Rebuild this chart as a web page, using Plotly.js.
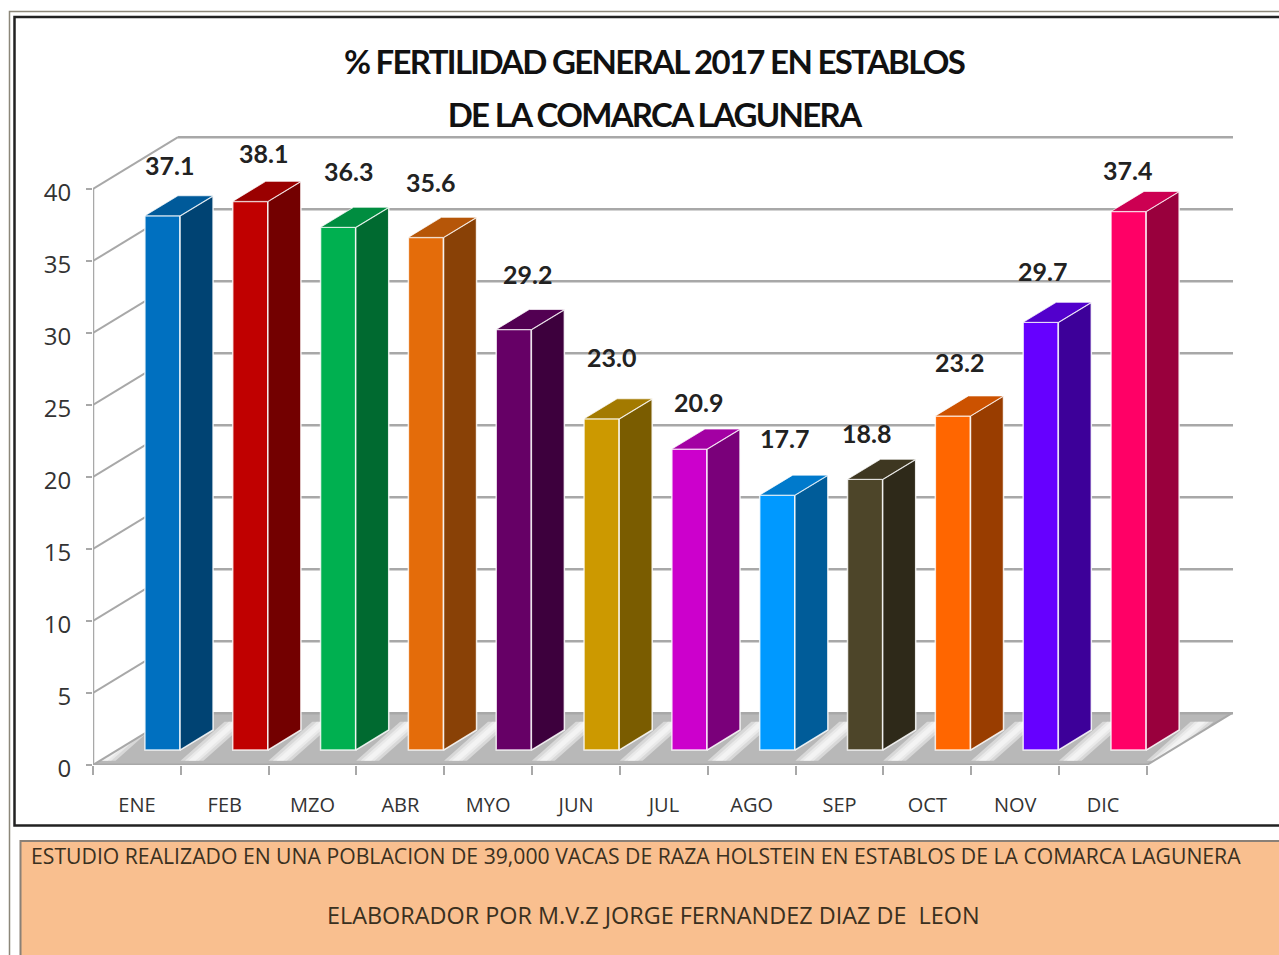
<!DOCTYPE html>
<html><head><meta charset="utf-8">
<script src="https://cdn.plot.ly/plotly-3.0.1.min.js"></script>
<style>html,body{margin:0;padding:0;background:#fff;overflow:hidden}
.gtitle,.annotation[data-index="14"] text{letter-spacing:-1.7px}</style></head>
<body><div id="chart" style="width:1279px;height:955px"></div>
<script>
const categories = ['ENE','FEB','MZO','ABR','MYO','JUN','JUL','AGO','SEP','OCT','NOV','DIC'];
const values = [37.1,38.1,36.3,35.6,29.2,23.0,20.9,17.7,18.8,23.2,29.7,37.4];
const axisTicks = [0,5,10,15,20,25,30,35,40];
const frontColors = ['#0070C0','#C00000','#00B050','#E46C0A','#660066','#CC9900','#CC00CC','#0099FF','#4D4529','#FF6600','#6600FF','#FF0066'];
const labelDx = [7,13,10,5,14,10,9,7,1,7,2,-1];
const labelDy = [51,48,56,55,56,62,47,57,46,54,51,41];
const titleLine1 = '% FERTILIDAD GENERAL 2017 EN ESTABLOS';
const titleLine2 = 'DE LA COMARCA LAGUNERA';
const noteLine1 = 'ESTUDIO REALIZADO EN UNA POBLACION DE 39,000 VACAS DE RAZA HOLSTEIN EN ESTABLOS DE LA COMARCA LAGUNERA';
const noteLine2 = 'ELABORADOR POR M.V.Z JORGE FERNANDEZ DIAZ DE  LEON';

const W=1279,H=955,L=93,R=1233,T=135,B=765;
const xMin=-0.5, xMax=12.48, yMax=43.75;
const wallDX=0.968, wallDY=3.6, barDX=0.376, barDY=1.39, lift=1.04, barShift=0.291, barW=0.4;
const px=v=>(v-L)/(R-L), py=v=>(B-v)/(B-T);
const shade=(hex,f)=>'rgb('+[1,3,5].map(i=>Math.round(parseInt(hex.substr(i,2),16)*f)).join(',')+')';
const gridColor='#a8a8a8';

const shapes=[];
const poly=(pts,fill,opts)=>Object.assign({type:'path',xref:'x',yref:'y',layer:'below',
  path:'M'+pts.map(p=>p.join(',')).join('L')+'Z',fillcolor:fill,line:{width:0}},opts||{});
const seg=(x0,y0,x1,y1,c,w)=>({type:'line',xref:'x',yref:'y',layer:'below',x0,y0,x1,y1,line:{color:c,width:w}});

// floor with soft light streaks between the bars
shapes.push(poly([[xMin,0],[11.5,0],[11.5+wallDX,wallDY],[xMin+wallDX,wallDY]],'#b8b8b8'));
[-1].concat(categories.map((c,i)=>i)).forEach(i=>{
  const a=i-0.5+1.127;
  [0.13,0.08,0.04].forEach(h=>{
    shapes.push(poly([[a-h,0.3],[a+h,0.3],[a+0.5+h,3.0],[a+0.5-h,3.0]],'rgba(255,255,255,0.45)'));
  });
});
// back wall + left wall
axisTicks.forEach(v=>{
  shapes.push(seg(xMin,v,xMin+wallDX,v+wallDY,gridColor,2));
  shapes.push(seg(xMin+wallDX,v+wallDY,xMax,v+wallDY,gridColor,2.5));
});
shapes.push(seg(11.5,0,11.5+wallDX,wallDY,gridColor,2));
// frames
const fr=(x0,y0,x1,y1,line,fill)=>({type:'rect',xref:'paper',yref:'paper',layer:'below',
  x0:px(x0),x1:px(x1),y0:py(y0),y1:py(y1),line,fillcolor:fill||'rgba(0,0,0,0)'});
shapes.push(fr(9.5,11.5,1300,1000,{color:'#8c8779',width:1.5}));
shapes.push(fr(14.5,17,1300,825.5,{color:'#222',width:2.5}));
shapes.push(fr(20.5,841,1300,1000,{color:'#8a8077',width:2},'#F9BF8F'));

const traces=[];
// front faces (native bars)
traces.push({type:'bar',x:categories.map((c,i)=>i+barShift),y:values,base:values.map(()=>lift),width:barW,
  marker:{color:frontColors,line:{color:'rgba(255,255,255,0.8)',width:1.5}},hoverinfo:'skip',showlegend:false});
// side and top faces
values.forEach((v,i)=>{
  const x0=i+barShift-barW/2, x1=i+barShift+barW/2, yb=lift, yt=lift+v;
  traces.push({type:'scatter',mode:'lines',x:[x1,x1+barDX,x1+barDX,x1,x1],y:[yb,yb+barDY,yt+barDY,yt,yb],
    fill:'toself',fillcolor:shade(frontColors[i],0.6),line:{color:'rgba(255,255,255,0.85)',width:1.5},hoverinfo:'skip',showlegend:false});
  traces.push({type:'scatter',mode:'lines',x:[x0,x1,x1+barDX,x0+barDX,x0],y:[yt,yt,yt+barDY,yt+barDY,yt],
    fill:'toself',fillcolor:shade(frontColors[i],0.8),line:{color:'rgba(255,255,255,0.7)',width:1},hoverinfo:'skip',showlegend:false});
});
// front axis lines
traces.push({type:'scatter',mode:'lines',x:[xMin,11.5],y:[0,0],line:{color:gridColor,width:3},cliponaxis:false,hoverinfo:'skip',showlegend:false});
traces.push({type:'scatter',mode:'lines',x:[xMin,xMin],y:[0,40],line:{color:gridColor,width:2.5},cliponaxis:false,hoverinfo:'skip',showlegend:false});

const titleFont={family:'Lato',size:33,color:'#111',weight:700};
const annotations=values.map((v,i)=>({xref:'x',yref:'y',x:i+barShift,y:v+lift,xshift:labelDx[i],yshift:labelDy[i],
  text:v.toFixed(1),showarrow:false,xanchor:'center',yanchor:'middle',font:{family:'Lato',size:25,color:'#222',weight:700}}));
const note=(t,x,y,size)=>({xref:'paper',yref:'paper',x:px(x),y:py(y),text:t,showarrow:false,xanchor:'center',yanchor:'middle',
  font:{family:'Open Sans',size,color:'#3a3020'}});
annotations.push(note(noteLine1,636,855,21.2));
annotations.push(note(noteLine2,653,915,23.4));
annotations.push({xref:'paper',yref:'paper',x:px(654),y:py(114),text:titleLine2,showarrow:false,xanchor:'center',yanchor:'middle',font:titleFont});

Plotly.newPlot('chart',traces,{
  width:W,height:H,margin:{l:L,r:W-R,t:T,b:H-B,pad:0},
  paper_bgcolor:'#fff',plot_bgcolor:'rgba(0,0,0,0)',showlegend:false,
  title:{text:titleLine1,x:654/W,xanchor:'center',y:1-62/H,yanchor:'middle',font:titleFont},
  xaxis:{range:[xMin,xMax],tickmode:'array',tickvals:categories.map((c,i)=>i),ticktext:categories,
    showgrid:false,zeroline:false,showline:false,ticks:'',ticklabelstandoff:26,
    tickfont:{family:'Open Sans',size:20,color:'#333'},
    minor:{tickmode:'array',tickvals:categories.map((c,i)=>i-0.5).concat([11.5]),ticks:'outside',ticklen:9,tickwidth:2,tickcolor:gridColor,showgrid:false}},
  yaxis:{range:[0,yMax],tickmode:'array',tickvals:axisTicks,ticktext:axisTicks.map(String),
    showgrid:false,zeroline:false,showline:false,ticks:'outside',ticklen:6,tickwidth:2,tickcolor:gridColor,ticklabelstandoff:10,ticklabelshift:4,
    tickfont:{family:'Open Sans',size:24,color:'#333'}},
  shapes,annotations
},{displayModeBar:false,staticPlot:true});
</script></body></html>
